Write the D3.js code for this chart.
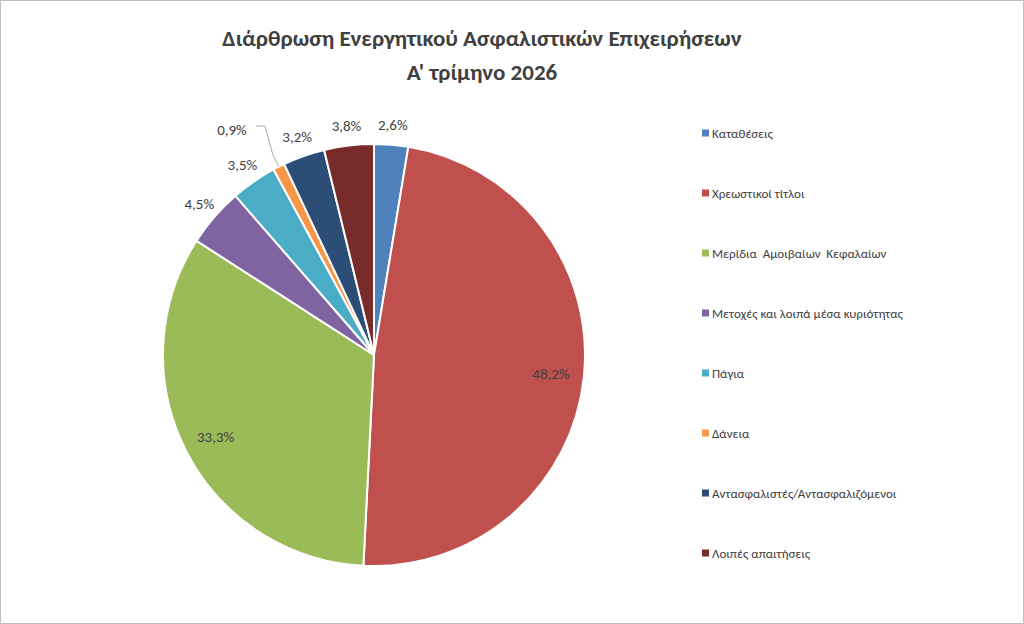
<!DOCTYPE html>
<html lang="el">
<head>
<meta charset="utf-8">
<script src="https://d3js.org/d3.v7.min.js"></script>
<style>body{margin:0;background:#fff;font-family:Calibri,Carlito,"Open Sans",sans-serif;}</style>
</head>
<body>
<script>
// chart data
var categories = ["Καταθέσεις", "Χρεωστικοί τίτλοι", "Μερίδια  Αμοιβαίων  Κεφαλαίων",
  "Μετοχές και λοιπά μέσα κυριότητας", "Πάγια", "Δάνεια",
  "Αντασφαλιστές/Αντασφαλιζόμενοι", "Λοιπές απαιτήσεις"];
var shares = [2.6, 48.2, 33.3, 4.5, 3.5, 0.9, 3.2, 3.8];
var colors = ["#4F81BD", "#C0504D", "#9BBB59", "#8064A2", "#4BACC6", "#F79646", "#2C4D75", "#772C2A"];
var titleLines = ["Διάρθρωση Ενεργητικού Ασφαλιστικών Επιχειρήσεων", "Α' τρίμηνο 2026"];

var w = 1024, h = 624;
var cx = 374, cy = 355, r = 211;

var svg = d3.select("body").append("svg").attr("width", w).attr("height", h);

// border
svg.append("rect").attr("x", 0.5).attr("y", 0.5).attr("width", w - 1).attr("height", h - 1)
  .attr("fill", "#fff").attr("stroke", "#BFBFBF");

// title
svg.selectAll("text.title").data(titleLines).enter().append("text")
  .attr("class", "title")
  .attr("x", 482).attr("y", function(d, i) { return 46 + i * 34; })
  .attr("text-anchor", "middle")
  .attr("font-size", 23).attr("font-weight", "bold").attr("fill", "#404040")
  .text(function(d) { return d; });

var pie = d3.pie().sort(null).value(function(d) { return d; });
var arcs = pie(shares);
var arc = d3.arc().innerRadius(0).outerRadius(r);

var g = svg.append("g").attr("transform", "translate(" + cx + "," + cy + ")");

g.selectAll("path").data(arcs).enter().append("path")
  .attr("d", arc)
  .attr("fill", function(d, i) { return colors[i]; })
  .attr("stroke", "#fff").attr("stroke-width", 2);

// labels: big slices inside, small ones outside
var inArc = d3.arc().innerRadius(178).outerRadius(178);
var outArc = d3.arc().innerRadius(231).outerRadius(231);
var fmt = function(v) { return v.toFixed(1).replace(".", ",") + "%"; };

arcs.forEach(function(d, i) {
  var p;
  if (shares[i] > 10) {
    p = inArc.centroid(d);
  } else if (i === 5) {
    // tiny slice: label pulled out with leader line
    var a = (d.startAngle + d.endAngle) / 2;
    var e = [Math.sin(a) * r, -Math.cos(a) * r];
    p = [-142, -225];
    g.append("polyline")
      .attr("points", [e, [e[0] - 6, e[1] - 12], [p[0] + 33, p[1] - 4], [p[0] + 24, p[1] - 4]].join(" "))
      .attr("fill", "none").attr("stroke", "#A6A6A6");
  } else {
    p = outArc.centroid(d);
  }
  g.append("text")
    .attr("x", p[0]).attr("y", p[1])
    .attr("text-anchor", "middle").attr("dy", "0.35em")
    .attr("font-size", 15).attr("fill", "#404040")
    .text(fmt(shares[i]));
});

// legend
var leg = svg.selectAll("g.leg").data(categories).enter().append("g")
  .attr("class", "leg")
  .attr("transform", function(d, i) { return "translate(702," + (133 + i * 60) + ")"; });
leg.append("rect").attr("x", 0).attr("y", -3.5).attr("width", 7).attr("height", 7)
  .attr("fill", function(d, i) { return colors[i]; });
leg.append("text").attr("x", 10).attr("dy", "0.35em")
  .attr("font-size", 13).attr("fill", "#404040")
  .style("white-space", "pre")
  .text(function(d) { return d; });
</script>
</body>
</html>
